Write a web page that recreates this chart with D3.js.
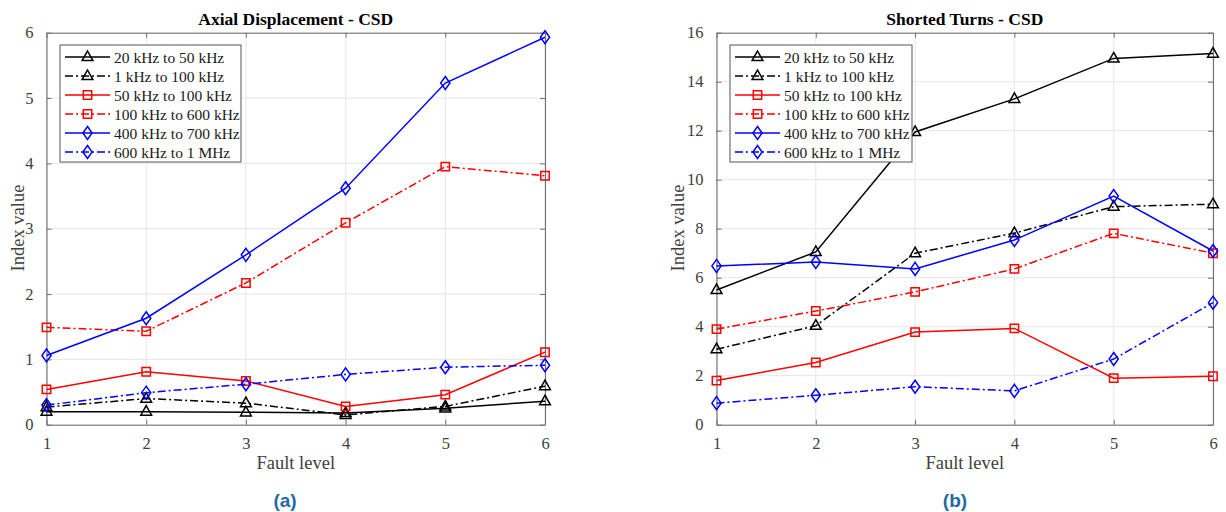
<!DOCTYPE html>
<html>
<head>
<meta charset="utf-8">
<script src="https://cdn.jsdelivr.net/npm/d3@7"></script>
<style>
	body { margin: 0; background: #fff; }
	svg { display: block; }
</style>
</head>
<body>
<div id="chart_container"></div>
<script>
// Data
const faultLevels = [1, 2, 3, 4, 5, 6]
const bandLabels = ['20 kHz to 50 kHz', '1 kHz to 100 kHz', '50 kHz to 100 kHz',
	'100 kHz to 600 kHz', '400 kHz to 700 kHz', '600 kHz to 1 MHz']

// (a) Axial Displacement - CSD
const axial_20k_50k = [0.20, 0.20, 0.19, 0.18, 0.25, 0.36]
const axial_1k_100k = [0.27, 0.40, 0.33, 0.15, 0.28, 0.59]
const axial_50k_100k = [0.54, 0.81, 0.67, 0.28, 0.46, 1.11]
const axial_100k_600k = [1.49, 1.43, 2.17, 3.09, 3.95, 3.81]
const axial_400k_700k = [1.06, 1.63, 2.60, 3.62, 5.23, 5.93]
const axial_600k_1M = [0.30, 0.49, 0.62, 0.77, 0.88, 0.91]

// (b) Shorted Turns - CSD
const shorted_20k_50k = [5.50, 7.05, 11.95, 13.30, 14.95, 15.15]
const shorted_1k_100k = [3.08, 4.04, 7.00, 7.82, 8.90, 9.00]
const shorted_50k_100k = [1.80, 2.54, 3.78, 3.93, 1.90, 1.98]
const shorted_100k_600k = [3.90, 4.64, 5.42, 6.36, 7.81, 7.00]
const shorted_400k_700k = [6.48, 6.64, 6.36, 7.54, 9.33, 7.09]
const shorted_600k_1M = [0.88, 1.20, 1.55, 1.38, 2.68, 4.98]

const axialTicks = [0, 1, 2, 3, 4, 5, 6]
const shortedTicks = [0, 2, 4, 6, 8, 10, 12, 14, 16]

// Chart size
const chartWidth = 1226
const chartHeight = 512

// Series styles (same order as bandLabels)
const dashDot = '8,3,2,3'
const seriesStyle = [
	{ color: '#000000', dash: null, marker: 'triangle' },
	{ color: '#000000', dash: dashDot, marker: 'triangle' },
	{ color: '#ff0000', dash: null, marker: 'square' },
	{ color: '#ff0000', dash: dashDot, marker: 'square' },
	{ color: '#0000ff', dash: null, marker: 'diamond' },
	{ color: '#0000ff', dash: dashDot, marker: 'diamond' }
]

let markerPath = {
	triangle: 'M0,-6 L5.4,3.6 L-5.4,3.6 Z',
	square: 'M-4.2,-4.2 L4.2,-4.2 L4.2,4.2 L-4.2,4.2 Z',
	diamond: 'M0,-6.5 L4.6,0 L0,6.5 L-4.6,0 Z'
}

let svg = d3.select('#chart_container')
	.append('svg')
	.attr('width', chartWidth)
	.attr('height', chartHeight)

const serif = 'Liberation Serif, Times New Roman, serif'

function drawPanel(opts) {
	let scaleX = d3.scaleLinear()
		.domain([1, 6])
		.range([opts.left, opts.right])
	let scaleY = d3.scaleLinear()
		.domain([0, opts.yMax])
		.range([424.7, 32.7])

	let g = svg.append('g')

	// Grid lines
	g.selectAll('.gridx')
		.data(faultLevels)
		.enter()
		.append('line')
		.attr('x1', (d) => scaleX(d))
		.attr('x2', (d) => scaleX(d))
		.attr('y1', scaleY(0))
		.attr('y2', scaleY(opts.yMax))
		.style('stroke', '#e6e6e6')
		.style('stroke-width', 1)
	g.selectAll('.gridy')
		.data(opts.ticks)
		.enter()
		.append('line')
		.attr('x1', scaleX(1))
		.attr('x2', scaleX(6))
		.attr('y1', (d) => scaleY(d))
		.attr('y2', (d) => scaleY(d))
		.style('stroke', '#e6e6e6')
		.style('stroke-width', 1)

	// Axes (ticks pointing inwards on all four sides)
	let axes = [
		{ axis: d3.axisBottom(scaleX).tickValues(faultLevels), y: scaleY(0), x: 0, labels: true },
		{ axis: d3.axisTop(scaleX).tickValues(faultLevels), y: scaleY(opts.yMax), x: 0, labels: false },
		{ axis: d3.axisLeft(scaleY).tickValues(opts.ticks), y: 0, x: scaleX(1), labels: true },
		{ axis: d3.axisRight(scaleY).tickValues(opts.ticks), y: 0, x: scaleX(6), labels: false }
	]
	axes.forEach((a) => {
		a.axis.tickSizeInner(-5).tickSizeOuter(0).tickPadding(13).tickFormat(a.labels ? d3.format('d') : '')
		let ag = g.append('g')
			.attr('transform', 'translate(' + a.x + ',' + a.y + ')')
			.call(a.axis)
		ag.select('.domain').style('stroke', '#707070').style('stroke-width', 1.1)
		ag.selectAll('.tick line').style('stroke', '#707070')
		ag.selectAll('.tick text')
			.style('font-family', serif)
			.style('font-size', '16.5px')
			.style('fill', '#404040')
	})

	// Lines and markers
	let line = d3.line()
		.x((d, i) => scaleX(faultLevels[i]))
		.y((d) => scaleY(d))
	opts.series.forEach((values, i) => {
		let st = seriesStyle[i]
		g.append('path')
			.datum(values)
			.attr('d', line)
			.style('fill', 'none')
			.style('stroke', st.color)
			.style('stroke-width', 1.5)
			.style('stroke-dasharray', st.dash)
		g.selectAll('.marker' + i)
			.data(values)
			.enter()
			.append('path')
			.attr('d', markerPath[st.marker])
			.attr('transform', (d, j) => 'translate(' + scaleX(faultLevels[j]) + ',' + scaleY(d) + ')')
			.style('fill', 'none')
			.style('stroke', st.color)
			.style('stroke-width', 1.5)
	})

	// Legend
	let legendX = opts.left + 13.5
	let legendY = 45
	let legend = g.append('g')
	legend.append('rect')
		.attr('x', legendX)
		.attr('y', legendY)
		.attr('width', opts.legendWidth)
		.attr('height', 117)
		.style('fill', '#ffffff')
		.style('stroke', '#555555')
		.style('stroke-width', 1)
	bandLabels.forEach((label, i) => {
		let st = seriesStyle[i]
		let rowY = legendY + 12 + i * 19
		legend.append('line')
			.attr('x1', legendX + 5)
			.attr('x2', legendX + 50)
			.attr('y1', rowY)
			.attr('y2', rowY)
			.style('stroke', st.color)
			.style('stroke-width', 1.5)
			.style('stroke-dasharray', st.dash)
		legend.append('path')
			.attr('d', markerPath[st.marker])
			.attr('transform', 'translate(' + (legendX + 27.5) + ',' + rowY + ')')
			.style('fill', 'none')
			.style('stroke', st.color)
			.style('stroke-width', 1.5)
		legend.append('text')
			.attr('x', legendX + 54)
			.attr('y', rowY + 5.5)
			.text(label)
			.style('font-family', serif)
			.style('font-size', '15.5px')
			.style('fill', '#1a1a1a')
	})

	// Titles and labels
	let midX = (opts.left + opts.right) / 2
	g.append('text')
		.attr('x', midX)
		.attr('y', 25)
		.attr('text-anchor', 'middle')
		.text(opts.title)
		.style('font-family', serif)
		.style('font-weight', 'bold')
		.style('font-size', '17.5px')
		.style('fill', '#000')
	g.append('text')
		.attr('x', midX)
		.attr('y', 469)
		.attr('text-anchor', 'middle')
		.text('Fault level')
		.style('font-family', serif)
		.style('font-size', '18.5px')
		.style('fill', '#404040')
	g.append('text')
		.attr('transform', 'translate(' + opts.yLabelX + ',228) rotate(-90)')
		.attr('text-anchor', 'middle')
		.text('Index value')
		.style('font-family', serif)
		.style('font-size', '18.5px')
		.style('fill', '#404040')
	g.append('text')
		.attr('x', opts.captionX)
		.attr('y', 507)
		.attr('text-anchor', 'middle')
		.text(opts.caption)
		.style('font-family', 'Liberation Sans, Arial, sans-serif')
		.style('font-weight', 'bold')
		.style('font-size', '19px')
		.style('fill', '#1f6aa5')
}

drawPanel({
	left: 46.5, right: 545, yMax: 6, ticks: axialTicks,
	series: [axial_20k_50k, axial_1k_100k, axial_50k_100k, axial_100k_600k, axial_400k_700k, axial_600k_1M],
	legendWidth: 181, title: 'Axial Displacement - CSD', yLabelX: 24, caption: '(a)', captionX: 285
})
drawPanel({
	left: 716.5, right: 1213, yMax: 16, ticks: shortedTicks,
	series: [shorted_20k_50k, shorted_1k_100k, shorted_50k_100k, shorted_100k_600k, shorted_400k_700k, shorted_600k_1M],
	legendWidth: 182, title: 'Shorted Turns - CSD', yLabelX: 684, caption: '(b)', captionX: 955
})
</script>
</body>
</html>
